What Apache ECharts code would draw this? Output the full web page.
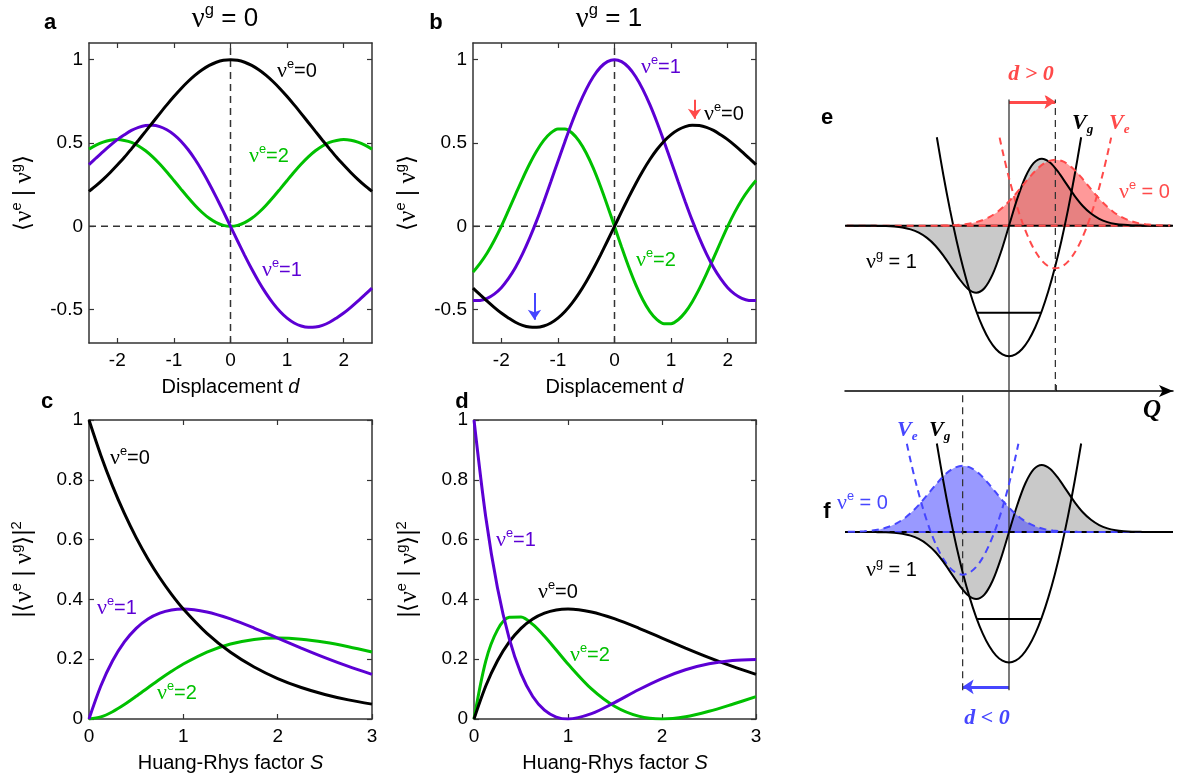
<!DOCTYPE html>
<html>
<head>
<meta charset="utf-8">
<script src="https://cdn.jsdelivr.net/npm/echarts@6/dist/echarts.min.js"></script>
<style>
html, body { margin: 0; padding: 0; background: #fff; }
#chart { width: 1183px; height: 779px; }
</style>
</head>
<body>
<div id="chart"></div>
<script>
// ---- panels a, b: overlap <v_e|v_g> vs displacement d ----
const dVals = [-2.5, -2.375, -2.25, -2.125, -2, -1.875, -1.75, -1.625, -1.5, -1.375, -1.25, -1.125, -1, -0.875, -0.75, -0.625, -0.5, -0.375, -0.25, -0.125, 0,
  0.125, 0.25, 0.375, 0.5, 0.625, 0.75, 0.875, 1, 1.125, 1.25, 1.375, 1.5, 1.625, 1.75, 1.875, 2, 2.125, 2.25, 2.375, 2.5];
const a0 = [0.2096, 0.2441, 0.2821, 0.3234, 0.3679, 0.4143, 0.4650, 0.5168, 0.5698, 0.6233, 0.6766, 0.7288, 0.7788, 0.8258, 0.8688, 0.9070, 0.9394, 0.9655, 0.9845, 0.9961, 1,
  0.9961, 0.9845, 0.9655, 0.9394, 0.9070, 0.8688, 0.8258, 0.7788, 0.7288, 0.6766, 0.6233, 0.5698, 0.5168, 0.4650, 0.4143, 0.3679, 0.3234, 0.2821, 0.2441, 0.2096];
const a1 = [0.3705, 0.4100, 0.4488, 0.4859, 0.5203, 0.5493, 0.5754, 0.5938, 0.6044, 0.6061, 0.5981, 0.5797, 0.5507, 0.5109, 0.4608, 0.4008, 0.3321, 0.2560, 0.1740, 0.0880, 0,
  -0.0880, -0.1740, -0.2560, -0.3321, -0.4008, -0.4608, -0.5109, -0.5507, -0.5797, -0.5981, -0.6061, -0.6044, -0.5938, -0.5754, -0.5493, -0.5203, -0.4859, -0.4488, -0.4100, -0.3705];
const a2 = [0.4632, 0.4868, 0.5049, 0.5163, 0.5203, 0.5150, 0.5035, 0.4825, 0.4533, 0.4167, 0.3738, 0.3261, 0.2753, 0.2235, 0.1728, 0.1253, 0.0830, 0.0480, 0.0218, 0.0055, 0,
  0.0055, 0.0218, 0.0480, 0.0830, 0.1253, 0.1728, 0.2235, 0.2753, 0.3261, 0.3738, 0.4167, 0.4533, 0.4825, 0.5035, 0.5150, 0.5203, 0.5163, 0.5049, 0.4868, 0.4632];
const b0 = [-0.3705, -0.4100, -0.4488, -0.4859, -0.5203, -0.5493, -0.5754, -0.5938, -0.6044, -0.6061, -0.5981, -0.5797, -0.5507, -0.5109, -0.4608, -0.4008, -0.3321, -0.2560, -0.1740, -0.0880, 0,
  0.0880, 0.1740, 0.2560, 0.3321, 0.4008, 0.4608, 0.5109, 0.5507, 0.5797, 0.5981, 0.6061, 0.6044, 0.5938, 0.5754, 0.5493, 0.5203, 0.4859, 0.4488, 0.4100, 0.3705];
const b1 = [-0.4454, -0.4444, -0.4320, -0.4068, -0.3679, -0.3140, -0.2470, -0.1655, -0.0712, 0.0341, 0.1480, 0.2676, 0.3894, 0.5097, 0.6245, 0.7298, 0.8220, 0.8976, 0.9537, 0.9883, 1,
  0.9883, 0.9537, 0.8976, 0.8220, 0.7298, 0.6245, 0.5097, 0.3894, 0.2676, 0.1480, 0.0341, -0.0712, -0.1655, -0.2470, -0.3140, -0.3679, -0.4068, -0.4320, -0.4444, -0.4454];
const b2 = [-0.275, -0.222, -0.160, -0.085, 0, 0.0941, 0.1907, 0.2854, 0.3739, 0.4520, 0.5155, 0.5605, 0.5841, 0.5843, 0.5600, 0.5115, 0.4403, 0.3493, 0.2423, 0.1240, 0,
  -0.1240, -0.2423, -0.3493, -0.4403, -0.5115, -0.5600, -0.5843, -0.5841, -0.5605, -0.5155, -0.4520, -0.3739, -0.2854, -0.1907, -0.0941, 0, 0.085, 0.160, 0.222, 0.275];
const dRange = [-2.5, 2.5];
const ovRange = [-0.7, 1.1];
const dTicks = [-2, -1, 0, 1, 2];
const ovTicks = [-0.5, 0, 0.5, 1];
// arrows in b mark the extrema at d = +-1.414
const arrowB = [[1.414, 0.76, 0.645], [-1.414, -0.40, -0.56]];

// ---- panels c, d: |<v_e|v_g>|^2 vs Huang-Rhys factor S ----
const sVals = [0, 0.125, 0.25, 0.375, 0.5, 0.625, 0.75, 0.875, 1, 1.25, 1.5, 1.75, 2, 2.25, 2.5, 2.75, 3];
const c0 = [1, 0.8825, 0.7788, 0.6873, 0.6065, 0.5353, 0.4724, 0.4169, 0.3679, 0.2865, 0.2231, 0.1738, 0.1353, 0.1054, 0.0821, 0.0639, 0.0498];
const c1 = [0, 0.1103, 0.1947, 0.2577, 0.3033, 0.3346, 0.3543, 0.3648, 0.3679, 0.3581, 0.3347, 0.3041, 0.2707, 0.2371, 0.2052, 0.1758, 0.1494];
const c2 = [0, 0.0069, 0.0243, 0.0483, 0.0758, 0.1046, 0.1329, 0.1596, 0.1839, 0.2238, 0.2510, 0.2661, 0.2707, 0.2668, 0.2565, 0.2417, 0.2240];
const d0 = [0, 0.1103, 0.1947, 0.2577, 0.3033, 0.3346, 0.3543, 0.3648, 0.3679, 0.3581, 0.3347, 0.3041, 0.2707, 0.2371, 0.2052, 0.1758, 0.1494];
const d1 = [1, 0.6757, 0.4381, 0.2685, 0.1516, 0.0753, 0.0295, 0.0065, 0, 0.0179, 0.0558, 0.0978, 0.1353, 0.1647, 0.1847, 0.1957, 0.1991];
const d2 = [0, 0.1939, 0.2981, 0.3403, 0.3412, 0.3163, 0.2768, 0.2308, 0.1839, 0.1007, 0.0418, 0.0095, 0, 0.0074, 0.0257, 0.0494, 0.0747];
const sTicks = [0, 1, 2, 3];
const pTicks = [0, 0.2, 0.4, 0.6, 0.8, 1];

// ---- panels e, f: schematic potentials (Q in oscillator units, energy in hbar*omega) ----
const qVals = [-5, -4.75, -4.5, -4.25, -4, -3.75, -3.5, -3.25, -3, -2.75, -2.5, -2.25, -2, -1.75, -1.5, -1.25, -1, -0.75, -0.5, -0.25, 0,
  0.25, 0.5, 0.75, 1, 1.25, 1.5, 1.75, 2, 2.25, 2.5, 2.75, 3, 3.25, 3.5, 3.75, 4, 4.25, 4.5, 4.75, 5];
const psiG1 = [0, 0, 0, 0, -0.002, -0.004, -0.010, -0.021, -0.042, -0.080, -0.140, -0.227, -0.344, -0.481, -0.618, -0.727, -0.770, -0.719, -0.560, -0.308, 0,
  0.308, 0.560, 0.719, 0.770, 0.727, 0.618, 0.481, 0.344, 0.227, 0.140, 0.080, 0.042, 0.021, 0.010, 0.004, 0.002, 0, 0, 0, 0];
const uVals = [-3.5, -3.25, -3, -2.75, -2.5, -2.25, -2, -1.75, -1.5, -1.25, -1, -0.75, -0.5, -0.25, 0, 0.25, 0.5, 0.75, 1, 1.25, 1.5, 1.75, 2, 2.25, 2.5, 2.75, 3, 3.25, 3.5];
const psiE0 = [0.002, 0.004, 0.008, 0.017, 0.033, 0.060, 0.103, 0.164, 0.247, 0.348, 0.461, 0.574, 0.671, 0.737, 0.76, 0.737, 0.671, 0.574, 0.461, 0.348, 0.247, 0.164, 0.103, 0.060, 0.033, 0.017, 0.008, 0.004, 0.002];
const vgQ = [-2.2, -2, -1.8, -1.6, -1.4, -1.2, -1, -0.8, -0.6, -0.4, -0.2, 0, 0.2, 0.4, 0.6, 0.8, 1, 1.2, 1.4, 1.6, 1.8, 2, 2.2];
const vgE = [2.517, 2.08, 1.685, 1.331, 1.019, 0.749, 0.52, 0.333, 0.187, 0.083, 0.021, 0, 0.021, 0.083, 0.187, 0.333, 0.52, 0.749, 1.019, 1.331, 1.685, 2.08, 2.517];
const veU = [-1.7, -1.6, -1.4, -1.2, -1, -0.8, -0.6, -0.4, -0.2, 0, 0.2, 0.4, 0.6, 0.8, 1, 1.2, 1.4, 1.6, 1.7];
const veE = [2.513, 2.341, 2.029, 1.759, 1.53, 1.343, 1.197, 1.093, 1.031, 1.01, 1.031, 1.093, 1.197, 1.343, 1.53, 1.759, 2.029, 2.341, 2.513];
const waveLevel = 1.5;
const groundLevel = 0.5;
const groundQ = [-0.98, 0.98];
const dispE = 1.414;
const dispF = -1.414;
const qRange = [-5, 5];
const eRange = [-0.4, 2.98];
const fRange = [-0.43, 3.12];

const FONT = "'Liberation Sans', Arial, sans-serif";
const SERIF = "'Liberation Serif', 'Times New Roman', serif";
const PURPLE = '#5c00d4';
const GREEN = '#00c000';
const RED = '#ff4a4a';
const BLUE = '#4646ff';
const AXIS = '#333';

function supRich(size) {
  return {
    n: { fontFamily: SERIF, fontSize: size * 1.1, lineHeight: size * 1.3 },
    t: { fontFamily: FONT, fontSize: size, lineHeight: size * 1.3 },
    i: { fontFamily: FONT, fontStyle: 'italic', fontSize: size, lineHeight: size * 1.3 },
    s: { fontFamily: FONT, fontSize: size * 0.64, lineHeight: size * 0.8, verticalAlign: 'top' },
    V: { fontFamily: SERIF, fontStyle: 'italic', fontWeight: 'bold', fontSize: size * 1.1, lineHeight: size * 1.3 },
    b: { fontFamily: SERIF, fontStyle: 'italic', fontWeight: 'bold', fontSize: size * 0.66, lineHeight: size * 0.8, verticalAlign: 'bottom' }
  };
}

const grids = [
  { left: 89, top: 43, width: 283, height: 300 },
  { left: 473, top: 43, width: 283, height: 300 },
  { left: 89, top: 420, width: 283, height: 299 },
  { left: 474, top: 420, width: 282, height: 299 },
  { left: 845, top: 97, width: 328, height: 294 },
  { left: 845, top: 391, width: 328, height: 309 }
];

const ovName = '{t|⟨}{n|ν}{s|e}{t| | }{n|ν}{s|g}{t|⟩}';
const sqName = '{t||⟨}{n|ν}{s|e}{t| | }{n|ν}{s|g}{t|⟩|}{s|2}';
const xNameA = '{t|Displacement }{i|d}';
const xNameC = '{t|Huang-Rhys factor }{i|S}';

function xAx(gi, range, ticks, main, name) {
  return {
    type: 'value', gridIndex: gi, min: range[0], max: range[1], position: main ? 'bottom' : 'top',
    axisLine: { show: true, onZero: false, lineStyle: { color: AXIS, width: 1.5 } },
    axisTick: { show: true, inside: true, length: 5, customValues: ticks, lineStyle: { color: AXIS, width: 1.2 } },
    axisLabel: { show: main, customValues: ticks, color: '#000', fontSize: 19, fontFamily: FONT, margin: 8 },
    splitLine: { show: false },
    name: main ? name : '', nameLocation: 'middle', nameGap: 31,
    nameTextStyle: { color: '#000', rich: supRich(20) }
  };
}
function yAx(gi, range, ticks, main, name) {
  return {
    type: 'value', gridIndex: gi, min: range[0], max: range[1], position: main ? 'left' : 'right',
    axisLine: { show: true, onZero: false, lineStyle: { color: AXIS, width: 1.5 } },
    axisTick: { show: true, inside: true, length: 5, customValues: ticks, lineStyle: { color: AXIS, width: 1.2 } },
    axisLabel: { show: main, customValues: ticks, color: '#000', fontSize: 19, fontFamily: FONT, margin: 6 },
    splitLine: { show: false },
    name: main ? name : '', nameLocation: 'middle', nameGap: 50, nameRotate: 90,
    nameTextStyle: { color: '#000', rich: supRich(23) }
  };
}

const xAxes = [];
const yAxes = [];
const frames = [
  [dRange, dTicks, xNameA, ovRange, ovTicks, ovName],
  [dRange, dTicks, xNameA, ovRange, ovTicks, ovName],
  [[0, 3], sTicks, xNameC, [0, 1], pTicks, sqName],
  [[0, 3], sTicks, xNameC, [0, 1], pTicks, sqName]
];
frames.forEach((f, gi) => {
  xAxes.push(xAx(gi, f[0], f[1], true, f[2]), xAx(gi, f[0], f[1], false, ''));
  yAxes.push(yAx(gi, f[3], f[4], true, f[5]), yAx(gi, f[3], f[4], false, ''));
});
// e (x 8, y 8 energy, y 10 wavefunction) and f (x 9, y 9 energy, y 11 wavefunction)
xAxes.push({ type: 'value', gridIndex: 4, min: qRange[0], max: qRange[1], show: false });
xAxes.push({
  type: 'value', gridIndex: 5, min: qRange[0], max: qRange[1], position: 'top',
  axisLine: { show: true, onZero: false, symbol: ['none', 'arrow'], symbolSize: [9, 14], lineStyle: { color: '#000', width: 1.5 } },
  axisTick: { show: true, inside: false, length: 6, customValues: [dispE], lineStyle: { color: '#000', width: 1.5 } },
  axisLabel: { show: false, customValues: [dispE] }, splitLine: { show: false }
});
yAxes.push({ type: 'value', gridIndex: 4, min: eRange[0], max: eRange[1], show: false });
yAxes.push({ type: 'value', gridIndex: 5, min: fRange[0], max: fRange[1], show: false });
yAxes.push({ type: 'value', gridIndex: 4, min: eRange[0] - waveLevel, max: eRange[1] - waveLevel, show: false });
yAxes.push({ type: 'value', gridIndex: 5, min: fRange[0] - waveLevel, max: fRange[1] - waveLevel, show: false });

const series = [];
function add(xa, ya, data, color, width, dashed, smooth, extra) {
  series.push(Object.assign({
    type: 'line', xAxisIndex: xa, yAxisIndex: ya, data, symbol: 'none', silent: true,
    smooth: smooth ? smooth : false,
    lineStyle: { color, width, type: dashed ? [7, 5] : 'solid' }
  }, extra || {}));
}
const zip = (xs, ys) => xs.map((x, i) => [x, ys[i]]);

// a, b dashed zero guides
[0, 2].forEach(ax => {
  add(ax, ax, [[dRange[0], 0], [dRange[1], 0]], AXIS, 1.5, true);
  add(ax, ax, [[0, ovRange[0]], [0, ovRange[1]]], AXIS, 1.5, true);
});
const curveSets = [
  [0, dVals, [[a2, GREEN], [a1, PURPLE], [a0, '#000']]],
  [2, dVals, [[b2, GREEN], [b1, PURPLE], [b0, '#000']]],
  [4, sVals, [[c2, GREEN], [c1, PURPLE], [c0, '#000']]],
  [6, sVals, [[d2, GREEN], [d0, '#000'], [d1, PURPLE]]]
];
curveSets.forEach(([ax, xs, sets]) => sets.forEach(([ys, col]) => add(ax, ax, zip(xs, ys), col, 3, false, 0.3)));
series.push({
  type: 'lines', coordinateSystem: 'cartesian2d', xAxisIndex: 2, yAxisIndex: 2, silent: true,
  symbol: ['none', 'arrow'], symbolSize: 10,
  data: arrowB.map((a, i) => ({ coords: [[a[0], a[1]], [a[0], a[2]]], lineStyle: { color: i === 0 ? RED : BLUE, width: 2, opacity: 1 } }))
});

// e, f schematics
function schematic(xa, ya, wa, disp, range, col, fill) {
  const gq = uVals.map(u => disp + u);
  // fills of v_g = 1 (grey) and v_e = 0 (coloured), measured from the wave baseline
  add(xa, wa, zip(qVals, psiG1), '#000', 0, false, 0.3, { lineStyle: { opacity: 0 }, areaStyle: { color: '#c9c9c9', opacity: 1 } });
  add(xa, wa, zip(gq, psiE0), '#000', 0, false, 0.3, { lineStyle: { opacity: 0 }, areaStyle: { color: fill, opacity: 1 } });
  // baseline and guides
  add(xa, wa, [[qRange[0] + 0.05, 0], [qRange[1] - 0.05, 0]], '#000', 1.8, false);
  add(xa, wa, [[qRange[0] + 0.05, 0], [qRange[1] - 0.05, 0]], col, 2, true);
  const vTop = xa === 8 ? 2.95 : range[1];
  const vBot = xa === 8 ? range[0] : -0.317;
  add(xa, ya, [[0, vBot], [0, vTop]], '#333', 1.3, false);
  add(xa, ya, [[disp, vBot], [disp, vTop]], '#333', 1.3, true);
  // potentials, level, wavefunctions
  add(xa, ya, zip(vgQ, vgE), '#000', 2, false, 0.3);
  add(xa, ya, groundQ.map(q => [q, groundLevel]), '#000', 2, false);
  add(xa, ya, veU.map((u, i) => [disp + u, veE[i]]), col, 2, true, 0.3);
  add(xa, wa, zip(qVals, psiG1), '#000', 2, false, 0.3);
  add(xa, wa, zip(gq, psiE0), col, 2, true, 0.3);
  const ay = xa === 8 ? 2.925 : -0.279;
  series.push({
    type: 'lines', coordinateSystem: 'cartesian2d', xAxisIndex: xa, yAxisIndex: ya, silent: true,
    symbol: ['none', 'arrow'], symbolSize: 11,
    lineStyle: { color: col, width: 3, opacity: 1 },
    data: [{ coords: [[0, ay], [disp, ay]] }]
  });
}
schematic(8, 8, 10, dispE, eRange, RED, 'rgba(255,70,70,0.55)');
schematic(9, 9, 11, dispF, fRange, BLUE, 'rgba(70,70,255,0.55)');

function lab(x, y, text, color, size, align) {
  return {
    type: 'text', x, y, silent: true, z: 100,
    style: { text, fill: color, rich: supRich(size), font: size + 'px ' + FONT,
      align: align || 'left', textAlign: align || 'left', verticalAlign: 'middle', textVerticalAlign: 'middle' }
  };
}
function letter(x, y, t) {
  return { type: 'text', x, y, silent: true, z: 100,
    style: { text: t, fill: '#000', font: 'bold 22px ' + FONT, align: 'center', textAlign: 'center', verticalAlign: 'middle', textVerticalAlign: 'middle' } };
}
function serifLab(x, y, t, color, size) {
  return { type: 'text', x, y, silent: true, z: 100,
    style: { text: t, fill: color, font: 'italic bold ' + size + 'px ' + SERIF, align: 'center', textAlign: 'center', verticalAlign: 'middle', textVerticalAlign: 'middle' } };
}

const graphic = [
  letter(50, 23, 'a'), letter(436, 23, 'b'), letter(47, 402, 'c'), letter(462, 402, 'd'),
  letter(827, 118, 'e'), letter(827, 512, 'f'),
  lab(225, 19, '{n|ν}{s|g}{t| = 0}', '#000', 26, 'center'),
  lab(609, 19, '{n|ν}{s|g}{t| = 1}', '#000', 26, 'center'),
  lab(277, 71, '{n|ν}{s|e}{t|=0}', '#000', 20),
  lab(249, 156, '{n|ν}{s|e}{t|=2}', GREEN, 20),
  lab(262, 270, '{n|ν}{s|e}{t|=1}', PURPLE, 20),
  lab(641, 67, '{n|ν}{s|e}{t|=1}', PURPLE, 20),
  lab(704, 114, '{n|ν}{s|e}{t|=0}', '#000', 20),
  lab(636, 260, '{n|ν}{s|e}{t|=2}', GREEN, 20),
  lab(110, 458, '{n|ν}{s|e}{t|=0}', '#000', 20),
  lab(97, 608, '{n|ν}{s|e}{t|=1}', PURPLE, 20),
  lab(157, 693, '{n|ν}{s|e}{t|=2}', GREEN, 20),
  lab(496, 540, '{n|ν}{s|e}{t|=1}', PURPLE, 20),
  lab(538, 592, '{n|ν}{s|e}{t|=0}', '#000', 20),
  lab(570, 655, '{n|ν}{s|e}{t|=2}', GREEN, 20),
  // e
  serifLab(1031, 74, 'd > 0', RED, 22),
  lab(1072, 123, '{V|V}{b|g}', '#000', 20),
  lab(1109, 123, '{V|V}{b|e}', RED, 20),
  lab(1119, 192, '{n|ν}{s|e}{t| = 0}', RED, 20),
  lab(866, 262, '{n|ν}{s|g}{t| = 1}', '#000', 20),
  // f
  serifLab(1152, 411, 'Q', '#000', 25),
  lab(897, 430, '{V|V}{b|e}', BLUE, 20),
  lab(929, 430, '{V|V}{b|g}', '#000', 20),
  lab(837, 503, '{n|ν}{s|e}{t| = 0}', BLUE, 20),
  lab(866, 570, '{n|ν}{s|g}{t| = 1}', '#000', 20),
  serifLab(987, 718, 'd < 0', BLUE, 22)
];

const chart = echarts.init(document.getElementById('chart'));
chart.setOption({
  animation: false,
  backgroundColor: '#fff',
  textStyle: { fontFamily: FONT },
  grid: grids,
  xAxis: xAxes,
  yAxis: yAxes,
  series,
  graphic
});
</script>
</body>
</html>
